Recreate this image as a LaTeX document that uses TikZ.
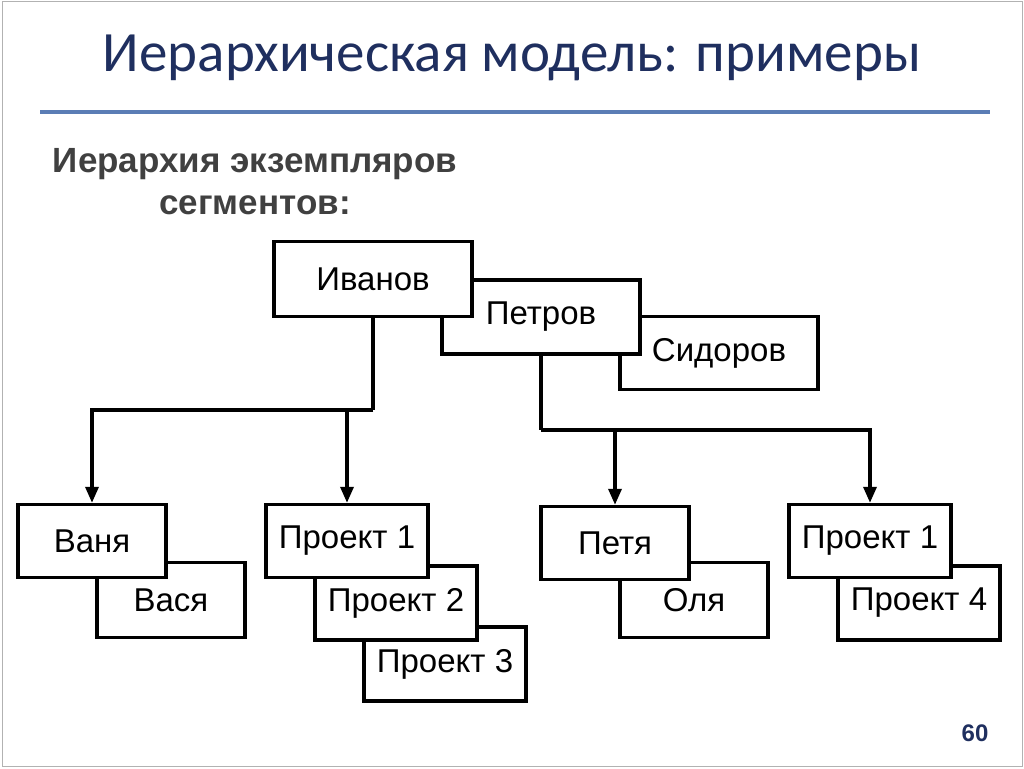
\documentclass[tikz,border=0pt]{standalone}
\usepackage{fontspec}
\setmainfont{Liberation Sans}
\newfontfamily\titlefont{Carlito}
\usetikzlibrary{arrows.meta}
\definecolor{ttl}{HTML}{1F2F5F}
\definecolor{rule}{HTML}{5B7DB5}
\begin{document}
\begin{tikzpicture}[x=1pt,y=-1pt,
  box/.style={draw=black,line width=3.4pt,fill=white,font=\fontsize{33}{38}\selectfont,inner sep=0pt},
  arr/.style={line width=3.4pt,-{Triangle[length=16pt,width=13pt]}},
  ln/.style={line width=3.4pt}]
\useasboundingbox (0,0) rectangle (1024,768);
\draw[gray!60,line width=1pt] (2,2) rectangle (1022,766);
\node[font=\titlefont\fontsize{57}{64}\selectfont,text=ttl] (title) at (512,58) {Иерархическая модель: примеры};
\draw[rule,line width=4pt] (40,112) -- (990,112);
\node[font=\bfseries\fontsize{35}{42}\selectfont,text=black!75,align=center] (sub) at (255,182) {Иерархия экземпляров\\сегментов:};
\node[box,minimum width=198,minimum height=73] (sidorov) at (719,353) {Сидоров};
\node[box,minimum width=198,minimum height=74] (petrov) at (541,317) {Петров};
\node[box,minimum width=198,minimum height=75] (ivanov) at (373,279) {Иванов};
\node[box,minimum width=148,minimum height=75] (vasya) at (171,600) {Вася};
\node[box,minimum width=148,minimum height=73] (vanya) at (92,541) {Ваня};
\node[box,minimum width=162,minimum height=74] (p3) at (445,664) {Проект 3};
\node[box,minimum width=162,minimum height=74] (p2) at (396,603) {Проект 2};
\node[box,minimum width=162,minimum height=73] (p1) at (347,541) {Проект 1};
\node[box,minimum width=148,minimum height=75] (olya) at (694,600) {Оля};
\node[box,minimum width=148,minimum height=73] (petya) at (615,543) {Петя};
\node[box,minimum width=162,minimum height=74] (p4) at (919,603) {Проект 4};
\node[box,minimum width=162,minimum height=73] (p1b) at (870,541) {Проект 1};
\coordinate (b1) at (373,410);
\coordinate (b2) at (541,430);
\draw[ln] (ivanov.south) -- (b1);
\draw[arr] (b1) -| (vanya.north);
\draw[arr] (b1) -| (p1.north);
\draw[ln] (petrov.south) -- (b2);
\draw[arr] (b2) -| (petya.north);
\draw[arr] (b2) -| (p1b.north);
\node[font=\bfseries\fontsize{24}{28}\selectfont,text=ttl] (num) at (975,733) {60};
\end{tikzpicture}
\end{document}
